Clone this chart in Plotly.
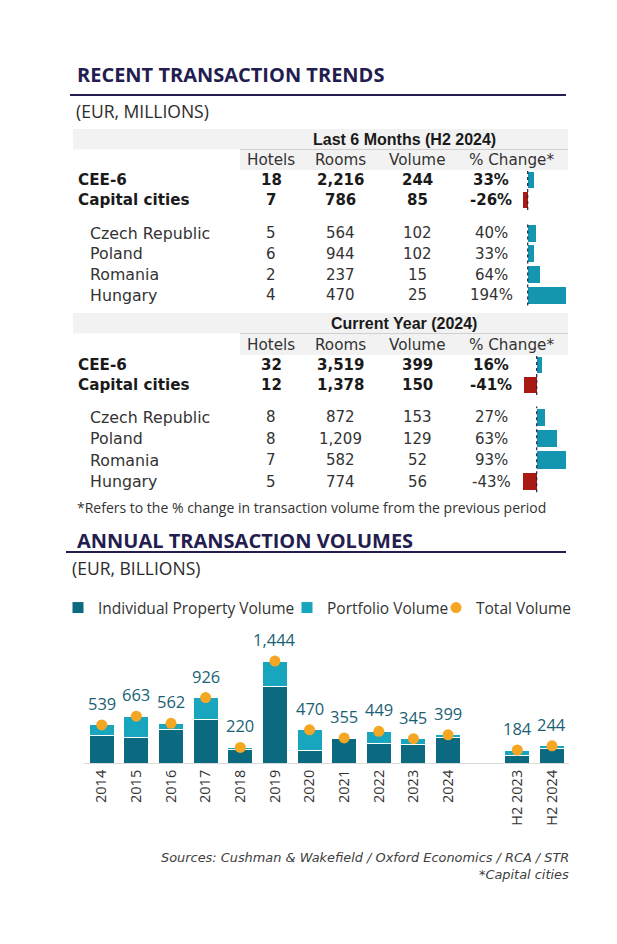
import plotly.graph_objects as go

# page body has an 8px margin: the figure is laid out in reference-pixel space
# and shifted by that margin
OFF = 8
W, H = 617 - OFF, 944 - OFF

# ---------------- data: tables ----------------
row_labels = ["CEE-6", "Capital cities", "Czech Republic", "Poland", "Romania", "Hungary"]
column_labels = ["Hotels", "Rooms", "Volume", "% Change*"]

h2_title = "Last 6 Months (H2 2024)"
h2_hotels = [18, 7, 5, 6, 2, 4]
h2_rooms = [2216, 786, 564, 944, 237, 470]
h2_volume = [244, 85, 102, 102, 15, 25]
h2_change = [33, -26, 40, 33, 64, 194]

y24_title = "Current Year (2024)"
y24_hotels = [32, 12, 8, 8, 7, 5]
y24_rooms = [3519, 1378, 872, 1209, 582, 774]
y24_volume = [399, 150, 153, 129, 52, 56]
y24_change = [16, -41, 27, 63, 93, -43]

# ---------------- data: annual volumes (EUR m) ----------------
periods = ["2014", "2015", "2016", "2017", "2018", "2019", "2020", "2021",
           "2022", "2023", "2024", "H2 2023", "H2 2024"]
individual_volume = [392, 364, 477, 623, 190, 1081, 180, 350, 273, 269, 368, 103, 208]
portfolio_volume = [147, 299, 85, 303, 30, 363, 290, 5, 176, 76, 31, 81, 36]
total_volume = [539, 663, 562, 926, 220, 1444, 470, 355, 449, 345, 399, 184, 244]

# ---------------- styles ----------------
FONT = "Open Sans"
TFONT = "DejaVu Sans"      # compact line metrics for the tightly spaced rows
NAVY = "#241d4f"
TXT = "#2b2b2b"
DARK_TEAL = "#0b6a80"
LIGHT_TEAL = "#17a6bd"
BAR_TEAL = "#1596b0"
RED = "#a81a12"
ORANGE = "#f5a623"
LABEL_TEAL = "#1b5f75"
GREY_BAND = "#f2f2f2"


def px(x):
    return (x - OFF) / W


def py(y):
    return 1 - (y - OFF) / H


fig = go.Figure()
annotations = []
shapes = []


def text(x, y, s, size=16, color=TXT, anchor="left", weight="normal",
         family=FONT, style="normal"):
    annotations.append(dict(
        x=px(x), y=py(y), xref="paper", yref="paper", text=s, showarrow=False,
        xanchor=anchor, yanchor="middle", borderpad=0,
        font=dict(family=family, size=size, color=color, weight=weight, style=style)))


def hline(x0, x1, y, color, width):
    shapes.append(dict(type="line", xref="paper", yref="paper",
                       x0=px(x0), x1=px(x1), y0=py(y), y1=py(y),
                       line=dict(color=color, width=width)))


def rect(x0, x1, y0, y1, color):
    shapes.append(dict(type="rect", xref="paper", yref="paper",
                       x0=px(x0), x1=px(x1), y0=py(y1), y1=py(y0),
                       fillcolor=color, line=dict(width=0), layer="below"))


# ---------------- section titles ----------------
text(76, 75, "RECENT TRANSACTION TRENDS", size=20, color=NAVY, weight="bold")
hline(70, 566, 95, NAVY, 2)
text(75, 111, "(EUR, MILLIONS)", size=17.5)

text(76, 540, "ANNUAL TRANSACTION VOLUMES", size=20, color=NAVY, weight="bold")
hline(66, 566, 552, NAVY, 2)
text(71, 568, "(EUR, BILLIONS)", size=17.5)

# ---------------- tables ----------------
COL_X = [271, 340, 417, 491]
HDR_X = [271, 340, 417, 511]
BAR_DOM = (515, 570)

tables = [
    dict(title=h2_title, hotels=h2_hotels, rooms=h2_rooms, volume=h2_volume,
         change=h2_change, band_top=129, band_mid=149.5, band_bot=170,
         sum_top=170, sum_rowh=20.0, cty_top=223.0, cty_rowh=20.6,
         zero=527.7, scale=0.197, axes=(2, 3)),
    dict(title=y24_title, hotels=y24_hotels, rooms=y24_rooms, volume=y24_volume,
         change=y24_change, band_top=313, band_mid=333.5, band_bot=355,
         sum_top=355, sum_rowh=20.0, cty_top=406.6, cty_rowh=21.4,
         zero=536.7, scale=0.315, axes=(4, 5)),
]

layout_axes = {}

for t in tables:
    rect(73, 568, t["band_top"], t["band_mid"], GREY_BAND)
    rect(240, 568, t["band_mid"], t["band_bot"], GREY_BAND)
    hline(240, 568, t["band_mid"], "#d0d0d0", 1)
    text(404, (t["band_top"] + t["band_mid"]) / 2 + 0.5, t["title"], size=16,
         color="#1a1a1a", anchor="center", weight="bold", family="Liberation Sans")
    for cx, lab in zip(HDR_X, column_labels):
        text(cx, (t["band_mid"] + t["band_bot"]) / 2 + 0.5, lab, size=15.2,
             anchor="center", family=TFONT, color="#333333")

    groups = [(slice(0, 2), t["sum_top"], t["sum_rowh"], t["axes"][0], True),
              (slice(2, 6), t["cty_top"], t["cty_rowh"], t["axes"][1], False)]
    for sl, top, rowh, ax, bold in groups:
        labs = row_labels[sl]
        n = len(labs)
        hot = t["hotels"][sl]
        rms = t["rooms"][sl]
        vol = t["volume"][sl]
        chg = t["change"][sl]
        w = "bold" if bold else "normal"
        col = "#1a1a1a" if bold else "#333333"
        size = 15.2 if bold else 15.8
        for i, lab in enumerate(labs):
            yc = top + (i + 0.5) * rowh
            text(77 if bold else 89, yc, lab, size=size, color=col, weight=w, family=TFONT)
            vals = [f"{hot[i]:,}", f"{rms[i]:,}", f"{vol[i]:,}", f"{chg[i]}%"]
            for cx, v in zip(COL_X, vals):
                text(cx, yc, v, size=15, color=col, anchor="center", weight=w, family=TFONT)

        xa = f"x{ax}"
        ya = f"y{ax}"
        fig.add_trace(go.Bar(
            x=chg, y=labs, orientation="h", xaxis=xa, yaxis=ya,
            marker=dict(color=[BAR_TEAL if c >= 0 else RED for c in chg], line=dict(width=0)),
            width=0.82, showlegend=False, hoverinfo="skip"))
        layout_axes[f"xaxis{ax}"] = dict(
            domain=[px(BAR_DOM[0]), px(BAR_DOM[1])],
            range=[(BAR_DOM[0] - t["zero"]) / t["scale"], (BAR_DOM[1] - t["zero"]) / t["scale"]],
            visible=False, anchor=ya, fixedrange=True)
        layout_axes[f"yaxis{ax}"] = dict(
            domain=[py(top + n * rowh), py(top)], type="category",
            categoryarray=labs, range=[n - 0.5, -0.5],
            visible=False, anchor=xa, fixedrange=True)
        shapes.append(dict(type="line", xref=xa, yref=f"{ya} domain",
                           x0=0, x1=0, y0=0, y1=1,
                           line=dict(color=NAVY, width=1.2, dash="dot")))

text(76, 507, "*Refers to the % change in transaction volume from the previous period",
     size=14, color="#333333")

# ---------------- annual volume chart ----------------
cat_order = periods[:11] + [" "] + periods[11:]

fig.add_trace(go.Bar(
    name="Individual Property Volume", x=periods, y=individual_volume,
    marker=dict(color=DARK_TEAL, line=dict(color="white", width=1)),
    hoverinfo="skip", legend="legend"))
fig.add_trace(go.Bar(
    name="Portfolio Volume", x=periods, y=portfolio_volume,
    marker=dict(color=LIGHT_TEAL, line=dict(color="white", width=1)),
    hoverinfo="skip", legend="legend2"))
fig.add_trace(go.Scatter(
    name="Total Volume", x=periods, y=total_volume, mode="markers",
    marker=dict(color=ORANGE, size=11, line=dict(width=0)),
    hoverinfo="skip", legend="legend3"))

# value labels: category index avoids numeric-looking names being read as indices
for p, v in zip(periods, total_volume):
    annotations.append(dict(
        x=cat_order.index(p), y=v, xref="x", yref="y", text=f"{v:,}", showarrow=False,
        xanchor="center", yanchor="bottom", yshift=8,
        font=dict(family=FONT, size=16.5, color=LABEL_TEAL)))

text(570, 857, "Sources: Cushman & Wakefield / Oxford Economics / RCA / STR",
     size=12.9, color="#404040", anchor="right", style="italic", family=TFONT)
text(570, 874, "*Capital cities", size=12.9, color="#404040", anchor="right",
     style="italic", family=TFONT)


def legend_at(x_text):
    # plotly puts the text 40px after the legend's left edge
    return dict(orientation="h", x=px(x_text - 38), y=py(591), xanchor="left", yanchor="top",
                font=dict(family=FONT, size=15.5, color="#333333"),
                itemwidth=30, bgcolor="rgba(0,0,0,0)")


fig.update_layout(
    width=W, height=H,
    margin=dict(l=0, r=0, t=0, b=0),
    paper_bgcolor="white", plot_bgcolor="white",
    barmode="stack", bargap=0.28,
    font=dict(family=FONT, color=TXT),
    showlegend=True,
    legend=legend_at(96),
    legend2=legend_at(325),
    legend3=legend_at(474),
    xaxis=dict(domain=[px(84.4), px(569.3)], type="category",
               categoryorder="array", categoryarray=cat_order,
               range=[-0.5, len(cat_order) - 0.5],
               showline=True, linecolor="#d9d9d9", linewidth=1,
               ticks="", tickangle=-90, showgrid=False,
               tickfont=dict(family=FONT, size=14.5, color="#333333"),
               anchor="y", fixedrange=True),
    yaxis=dict(domain=[py(763), py(620)], range=[0, 2025], visible=False,
               showgrid=False, zeroline=False, anchor="x", fixedrange=True),
    annotations=annotations,
    shapes=shapes,
    **layout_axes,
)

fig.write_html("out.html")
